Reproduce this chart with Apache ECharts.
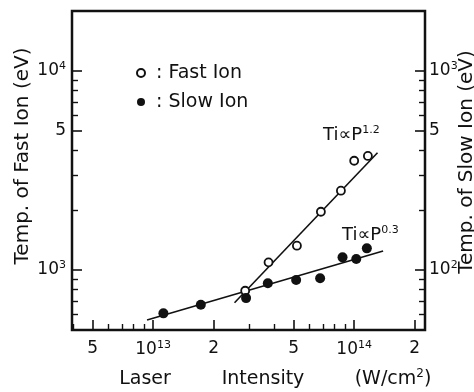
<!DOCTYPE html>
<html>
<head>
<meta charset="utf-8">
<script src="https://cdn.jsdelivr.net/npm/echarts@6/dist/echarts.min.js"></script>
<style>
html,body{margin:0;padding:0;background:#fff;}
#chart{width:474px;height:392px;}
</style>
</head>
<body>
<div id="chart"></div>
<script>
// ---- data ----
// Fast ions (open circles), left axis (eV)
const fastIntensity = [2.87e13, 3.75e13, 5.19e13, 6.83e13, 8.59e13, 1.00e14, 1.17e14];
const fastTemp      = [787, 1093, 1325, 1963, 2503, 3540, 3741];
// Slow ions (filled circles), right axis (eV)
const slowIntensity = [1.125e13, 1.727e13, 2.90e13, 3.72e13, 5.145e13, 6.77e13, 8.75e13, 1.024e14, 1.156e14];
const slowTemp      = [60.6, 66.9, 72.3, 85.8, 89.1, 90.9, 115.8, 113.6, 128.5];
// Fitted lines (end points)
const fastFitIntensity = [2.54e13, 1.306e14];
const fastFitTemp      = [685, 3886];
const slowFitIntensity = [9.33e12, 1.393e14];
const slowFitTemp      = [56.1, 124.6];

// ---- axes ----
const xRange  = [3.95e12, 2.25e14];
const yLRange = [500, 20000];
const yRRange = [50, 2000];
const xLabelValues = [5e12, 1e13, 2e13, 5e13, 1e14, 2e14];
const xLabelTexts  = ['5', '10{s|13}', '2', '5', '10{s|14}', '2'];
const xMinorTicks  = [4e12, 6e12, 7e12, 8e12, 9e12, 3e13, 4e13, 6e13, 7e13, 8e13, 9e13];
const yLLabelValues = [1000, 5000, 10000];
const yLLabelTexts  = ['10{s|3}', '5', '10{s|4}'];
const yLMinorTicks  = [600, 700, 800, 900, 2000, 3000, 4000, 6000, 7000, 8000, 9000];
const yRLabelValues = [100, 500, 1000];
const yRLabelTexts  = ['10{s|2}', '5', '10{s|3}'];
const yRMinorTicks  = [60, 70, 80, 90, 200, 300, 400, 600, 700, 800, 900];

const L = Math.log10;
const INK = '#111';
const FONT = 'DejaVu Sans';

function labelFormatter(vals, texts) {
  return function (v) {
    let best = 0, bd = Infinity;
    vals.forEach((x, i) => { const d = Math.abs(L(x) - v); if (d < bd) { bd = d; best = i; } });
    return texts[best];
  };
}
const supRich = { s: { fontSize: 11, fontFamily: FONT, color: INK, padding: [0, 0, 9, 0] } };

function majorAxis(range, vals, texts, position, margin) {
  return {
    type: 'value', min: L(range[0]), max: L(range[1]), position: position,
    axisLine: { show: false }, splitLine: { show: false },
    axisTick: { show: true, inside: true, length: 10, customValues: vals.map(L),
      lineStyle: { color: INK, width: 1.6 } },
    axisLabel: { show: true, customValues: vals.map(L), formatter: labelFormatter(vals, texts),
      fontSize: 17, fontFamily: FONT, color: INK, margin: margin, rich: supRich }
  };
}
function minorAxis(range, vals, position) {
  return {
    type: 'value', min: L(range[0]), max: L(range[1]), position: position,
    axisLine: { show: false }, splitLine: { show: false },
    axisTick: { show: true, inside: true, length: 6, customValues: vals.map(L),
      lineStyle: { color: INK, width: 1.4 } },
    axisLabel: { show: false }
  };
}

const chart = echarts.init(document.getElementById('chart'), null, { renderer: 'canvas' });
chart.setOption({
  animation: false,
  backgroundColor: '#fff',
  grid: { left: 72, right: 49, top: 11, bottom: 62, show: true,
    borderColor: INK, borderWidth: 2.5, backgroundColor: 'transparent' },
  xAxis: [
    majorAxis(xRange, xLabelValues, xLabelTexts, 'bottom', 10),
    minorAxis(xRange, xMinorTicks, 'bottom')
  ],
  yAxis: [
    majorAxis(yLRange, yLLabelValues, yLLabelTexts, 'left', 6),
    minorAxis(yLRange, yLMinorTicks, 'left'),
    majorAxis(yRRange, yRLabelValues, yRLabelTexts, 'right', 4),
    minorAxis(yRRange, yRMinorTicks, 'right')
  ],
  legend: {
    data: ['Fast Ion', 'Slow Ion'],
    orient: 'vertical', left: 131, top: 58,
    itemWidth: 8, itemHeight: 8, itemGap: 9,
    formatter: n => ' : ' + n,
    textStyle: { fontSize: 19, fontFamily: FONT, color: INK, lineHeight: 20 }
  },
  series: [
    { type: 'line', xAxisIndex: 0, yAxisIndex: 0, z: 2, silent: true,
      data: fastFitIntensity.map((x, i) => [L(x), L(fastFitTemp[i])]),
      showSymbol: false, symbol: 'none', lineStyle: { color: INK, width: 1.6 } },
    { type: 'line', xAxisIndex: 0, yAxisIndex: 2, z: 2, silent: true,
      data: slowFitIntensity.map((x, i) => [L(x), L(slowFitTemp[i])]),
      showSymbol: false, symbol: 'none', lineStyle: { color: INK, width: 1.6 } },
    { type: 'scatter', name: 'Fast Ion', xAxisIndex: 0, yAxisIndex: 0, z: 5,
      data: fastIntensity.map((x, i) => [L(x), L(fastTemp[i])]),
      symbol: 'circle', symbolSize: 8,
      itemStyle: { color: '#fff', borderColor: INK, borderWidth: 1.8, opacity: 1 } },
    { type: 'scatter', name: 'Slow Ion', xAxisIndex: 0, yAxisIndex: 2, z: 5,
      data: slowIntensity.map((x, i) => [L(x), L(slowTemp[i])]),
      symbol: 'circle', symbolSize: 10,
      itemStyle: { color: INK, opacity: 1 } }
  ],
  graphic: [
    { type: 'text', x: 23, y: 156, rotation: Math.PI / 2,
      style: { text: 'Temp. of Fast Ion (eV)', fontSize: 20, fontFamily: FONT, fill: INK,
        align: 'center', verticalAlign: 'middle' } },
    { type: 'text', x: 467, y: 162, rotation: Math.PI / 2,
      style: { text: 'Temp. of Slow Ion (eV)', fontSize: 20, fontFamily: FONT, fill: INK,
        align: 'center', verticalAlign: 'middle' } },
    { type: 'text', x: 145, y: 379,
      style: { text: 'Laser', fontSize: 19, fontFamily: FONT, fill: INK, align: 'center', verticalAlign: 'middle' } },
    { type: 'text', x: 263, y: 379,
      style: { text: 'Intensity', fontSize: 19, fontFamily: FONT, fill: INK, align: 'center', verticalAlign: 'middle' } },
    { type: 'text', x: 393, y: 379,
      style: { text: '(W/cm{s|2})', fontSize: 19, fontFamily: FONT, fill: INK, align: 'center', verticalAlign: 'middle',
        rich: { s: { fontSize: 12, fontFamily: FONT, fill: INK, padding: [0, 0, 10, 0] } } } },
    { type: 'text', x: 323, y: 135,
      style: { text: 'Ti∝P{s|1.2}', fontSize: 18, fontFamily: FONT, fill: INK, align: 'left', verticalAlign: 'middle',
        rich: { s: { fontSize: 11, fontFamily: FONT, fill: INK, padding: [0, 0, 10, 0] } } } },
    { type: 'text', x: 342, y: 235,
      style: { text: 'Ti∝P{s|0.3}', fontSize: 18, fontFamily: FONT, fill: INK, align: 'left', verticalAlign: 'middle',
        rich: { s: { fontSize: 11, fontFamily: FONT, fill: INK, padding: [0, 0, 10, 0] } } } }
  ]
});
</script>
</body>
</html>
